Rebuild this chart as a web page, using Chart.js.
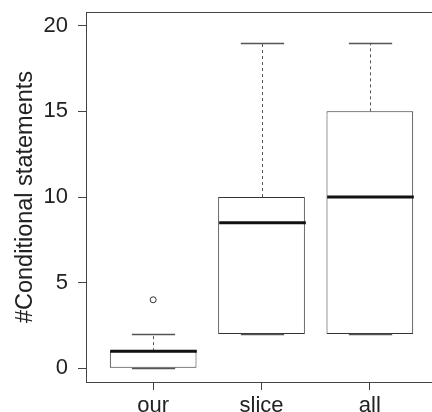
<!DOCTYPE html>
<html>
<head>
<meta charset="utf-8">
<script src="https://cdn.jsdelivr.net/npm/chart.js@4/dist/chart.umd.min.js"></script>
<style>
  html, body { margin: 0; padding: 0; background: #fff; overflow: hidden; }
  #wrap { width: 432px; height: 412px; overflow: hidden; }
</style>
</head>
<body>
<div id="wrap"><canvas id="box" width="450" height="412"></canvas></div>
<script>
const groups = ["our", "slice", "all"];
const lowWhisker = [0, 2, 2];
const q1 = [0, 2, 2];
const median = [1, 8.5, 10];
const q3 = [1, 10, 15];
const highWhisker = [2, 19, 19];
const outliers = [{ group: 1, value: 4 }];
const yTicks = [0, 5, 10, 15, 20];

const font = "'Liberation Sans', Arial, Helvetica, sans-serif";
const lineColor = "#333";

// medians, whiskers, staples and the frame
const boxExtras = {
  id: "boxExtras",
  afterDatasetsDraw(chart) {
    const { ctx, chartArea, scales } = chart;
    const x = scales.x, y = scales.y;
    const half = (x.getPixelForValue(1.4) - x.getPixelForValue(1)); // half box width
    const staple = half / 2;
    ctx.save();
    groups.forEach((g, i) => {
      const cx = Math.round(x.getPixelForValue(i + 1)) + 0.5;
      // whiskers
      ctx.strokeStyle = "#555";
      ctx.lineWidth = 1;
      ctx.setLineDash([3, 3]);
      ctx.beginPath();
      ctx.moveTo(cx, y.getPixelForValue(q3[i]));
      ctx.lineTo(cx, y.getPixelForValue(highWhisker[i]));
      ctx.moveTo(cx, y.getPixelForValue(q1[i]));
      ctx.lineTo(cx, y.getPixelForValue(lowWhisker[i]));
      ctx.stroke();
      ctx.setLineDash([]);
      // staples
      ctx.lineWidth = 1.3;
      ctx.beginPath();
      [highWhisker[i], lowWhisker[i]].forEach((v) => {
        const py = Math.round(y.getPixelForValue(v)) + 0.5;
        ctx.moveTo(cx - staple, py);
        ctx.lineTo(cx + staple, py);
      });
      ctx.stroke();
      // median
      ctx.strokeStyle = "#111";
      ctx.lineWidth = 3;
      ctx.beginPath();
      const my = y.getPixelForValue(median[i]);
      ctx.moveTo(cx - half, my);
      ctx.lineTo(cx + half, my);
      ctx.stroke();
    });
    ctx.strokeStyle = "#444";
    ctx.lineWidth = 1;
    ctx.strokeRect(Math.round(chartArea.left) + 0.5, Math.round(chartArea.top) + 0.5,
      chartArea.right - chartArea.left, chartArea.bottom - chartArea.top);
    ctx.restore();
  },
};

new Chart(document.getElementById("box"), {
  data: {
    datasets: [
      {
        type: "bar",
        data: groups.map((g, i) => ({ x: i + 1, y: [q1[i], q3[i]] })),
        backgroundColor: "#fff",
        borderColor: lineColor,
        borderWidth: 1,
        borderSkipped: false,
        categoryPercentage: 0.8,
        barPercentage: 1.0,
      },
      {
        type: "scatter",
        data: outliers.map((o) => ({ x: o.group, y: o.value })),
        pointStyle: "circle",
        pointRadius: 3,
        backgroundColor: "#fff",
        borderColor: lineColor,
        borderWidth: 1,
      },
    ],
  },
  options: {
    responsive: false,
    animation: false,
    layout: { padding: { top: 12, right: 13, left: 0, bottom: 0 } },
    plugins: { legend: { display: false }, tooltip: { enabled: false } },
    scales: {
      x: {
        type: "linear",
        offset: false,
        min: 0.38,
        max: 3.62,
        afterBuildTicks: (axis) => { axis.ticks = groups.map((g, i) => ({ value: i + 1 })); },
        afterFit: (axis) => { axis.height = 30; axis.paddingLeft = 0; axis.paddingRight = 0; },
        ticks: {
          color: "#222",
          font: { family: font, size: 22 },
          padding: 3,
          maxRotation: 0,
          callback: (v) => groups[v - 1],
        },
        grid: { offset: false, drawOnChartArea: false, tickLength: 8, color: "#444" },
        border: { display: false },
      },
      y: {
        type: "linear",
        min: -0.8,
        max: 20.8,
        afterBuildTicks: (axis) => { axis.ticks = yTicks.map((v) => ({ value: v })); },
        afterFit: (axis) => { axis.width = 86; axis.paddingTop = 0; axis.paddingBottom = 0; },
        ticks: {
          color: "#222",
          font: { family: font, size: 22 },
          padding: 10,
        },
        grid: { drawOnChartArea: false, tickLength: 8, color: "#444" },
        border: { display: false },
        title: {
          display: true,
          text: "#Conditional statements",
          color: "#222",
          font: { family: font, size: 23.5 },
          padding: { top: 11, bottom: 0 },
        },
      },
    },
  },
  plugins: [boxExtras],
});
</script>
</body>
</html>
